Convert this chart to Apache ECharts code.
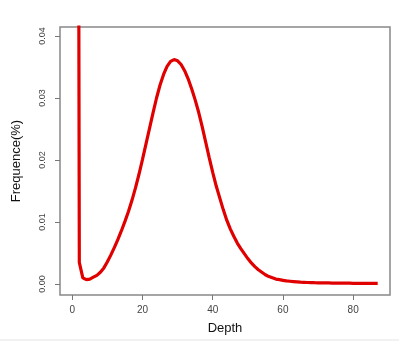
<!DOCTYPE html>
<html>
<head>
<meta charset="utf-8">
<script src="https://cdn.jsdelivr.net/npm/echarts@6/dist/echarts.min.js"></script>
<style>html,body{margin:0;padding:0;background:#fff}#c{width:399px;height:342px}</style>
</head>
<body>
<div id="c"></div>
<script>
const depth = [];
for (let d = 1; d <= 87; d++) depth.push(d);
const freq = [
  0.3000, 0.0035, 0.0010, 0.0007, 0.0008, 0.0011, 0.0014, 0.0019, 0.0026, 0.0036,
  0.0047, 0.0059, 0.0072, 0.0086, 0.0101, 0.0117, 0.0135, 0.0155, 0.0177, 0.0201,
  0.0226, 0.0251, 0.0276, 0.0300, 0.0321, 0.0338, 0.0351, 0.0359, 0.0362, 0.0360,
  0.0354, 0.0344, 0.0331, 0.0315, 0.0297, 0.0277, 0.0254, 0.0229, 0.0204, 0.0180,
  0.0158, 0.0139, 0.0120, 0.0103, 0.0089, 0.0077, 0.0066, 0.0057, 0.0049, 0.0041,
  0.0034, 0.0028, 0.0023, 0.0019, 0.0015, 0.0012, 0.0010, 0.0008, 0.0007, 0.0006,
  0.0005, 0.00045, 0.0004, 0.00035, 0.0003, 0.00028, 0.00025, 0.00023, 0.00021, 0.0002,
  0.00019, 0.00018, 0.00017, 0.00016, 0.00015, 0.00014, 0.00014, 0.00013, 0.00013, 0.00012,
  0.00012, 0.00011, 0.00011, 0.0001, 0.0001, 0.0001, 0.0001
];
const xTicks = [0, 20, 40, 60, 80];
const yTicks = [0, 0.01, 0.02, 0.03, 0.04];

const chart = echarts.init(document.getElementById('c'), null, {renderer: 'canvas'});
chart.setOption({
  animation: false,
  backgroundColor: '#fff',
  grid: {left: 60, top: 27, right: 9, bottom: 47, show: true, borderColor: '#888', borderWidth: 1.5, backgroundColor: 'transparent'},
  xAxis: {
    type: 'value', min: -3.5, max: 90.5,
    name: 'Depth', nameLocation: 'middle', nameGap: 27,
    nameTextStyle: {color: '#111', fontSize: 13, fontFamily: 'Liberation Sans'},
    axisLine: {show: false, onZero: false},
    splitLine: {show: false},
    axisTick: {show: true, inside: false, length: 5, lineStyle: {color: '#777'}, customValues: xTicks},
    axisLabel: {color: '#444', fontSize: 10, fontFamily: 'Liberation Sans', margin: 10, customValues: xTicks}
  },
  yAxis: {
    type: 'value', min: -0.00177, max: 0.04145,
    name: 'Frequence(%)', nameLocation: 'middle', nameGap: 37,
    nameTextStyle: {color: '#111', fontSize: 13, fontFamily: 'Liberation Sans'},
    axisLine: {show: false, onZero: false},
    splitLine: {show: false},
    axisTick: {show: true, inside: false, length: 5, lineStyle: {color: '#777'}, customValues: yTicks},
    axisLabel: {color: '#444', fontSize: 9, fontFamily: 'Liberation Sans', rotate: 90, margin: 13,
      customValues: yTicks, formatter: v => v.toFixed(2)}
  },
  series: [{
    type: 'line', data: depth.map((d, i) => [d, freq[i]]),
    showSymbol: false, clip: true, smooth: false,
    lineStyle: {color: '#e00000', width: 3.2}
  }],
  graphic: [{type: 'line', shape: {x1: 0, y1: 340, x2: 399, y2: 340}, style: {stroke: '#e4e4e4', lineWidth: 1}}]
});
</script>
</body>
</html>
